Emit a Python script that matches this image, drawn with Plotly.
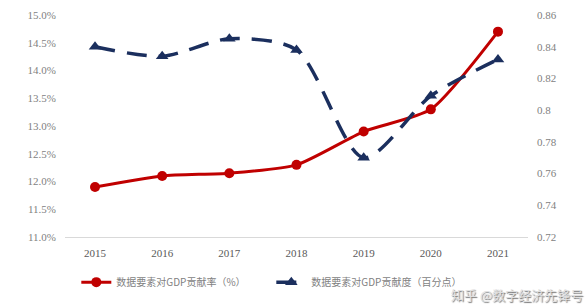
import plotly.graph_objects as go

years = ["2015", "2016", "2017", "2018", "2019", "2020", "2021"]
rate_pct = [11.9, 12.1, 12.15, 12.3, 12.9, 13.3, 14.7]
contrib_pp = [0.840, 0.834, 0.845, 0.838, 0.770, 0.809, 0.832]
name_rate = "数据要素对GDP贡献率（%）"
name_contrib = "数据要素对GDP贡献度（百分点）"
left_ticks = [11.0, 11.5, 12.0, 12.5, 13.0, 13.5, 14.0, 14.5, 15.0]
right_ticks = [0.72, 0.74, 0.76, 0.78, 0.80, 0.82, 0.84, 0.86]

RED = "#C00000"
NAVY = "#1B2F5E"
GRAY = "#7F7F7F"
SERIF = "Liberation Serif, Times New Roman, serif"

fig = go.Figure()
fig.add_trace(go.Scatter(
    x=years, y=rate_pct, name=name_rate, mode="lines+markers",
    line=dict(color=RED, width=3, shape="spline", smoothing=0.6),
    marker=dict(symbol="circle", size=10, color=RED),
    yaxis="y",
))
fig.add_trace(go.Scatter(
    x=years, y=contrib_pp, name=name_contrib, mode="lines+markers",
    line=dict(color=NAVY, width=3.5, dash="20px,12px", shape="spline", smoothing=0.8),
    marker=dict(symbol="triangle-up", size=11, color=NAVY),
    yaxis="y2",
))

fig.update_layout(
    width=587, height=305,
    margin=dict(l=65, r=59, t=15, b=68, autoexpand=False),
    paper_bgcolor="white", plot_bgcolor="white",
    font=dict(family=SERIF, color=GRAY, size=11),
    showlegend=True,
    legend=dict(
        orientation="h", xref="container", x=0.13, xanchor="left",
        yref="container", y=0.075, yanchor="middle",
        font=dict(family="Noto Sans CJK SC, Liberation Serif", size=10, color=GRAY),
        itemwidth=30, entrywidth=150, entrywidthmode="pixels",
        bgcolor="rgba(0,0,0,0)",
    ),
    xaxis=dict(
        type="category", categoryorder="array", categoryarray=years,
        showgrid=False, showline=True, linecolor="#D9D9D9", linewidth=1,
        ticks="", tickfont=dict(family=SERIF, size=11, color="#595959"),
        ticklabelstandoff=6, zeroline=False,
    ),
    yaxis=dict(
        range=[11.0, 15.0], tickvals=left_ticks,
        ticktext=[f"{v:.1f}%" for v in left_ticks],
        showgrid=False, zeroline=False, showline=False, ticks="",
        tickfont=dict(family=SERIF, size=11, color=GRAY),
        ticklabelstandoff=8,
    ),
    yaxis2=dict(
        range=[0.72, 0.86], tickvals=right_ticks,
        ticktext=[("0.8" if abs(v - 0.8) < 1e-9 else f"{v:.2f}") for v in right_ticks],
        overlaying="y", side="right",
        showgrid=False, zeroline=False, showline=False, ticks="",
        tickfont=dict(family=SERIF, size=11, color=GRAY),
        ticklabelstandoff=8,
    ),
)

fig.add_annotation(
    text="知乎 @数字经济先锋号", xref="paper", yref="paper",
    x=1.122, y=-0.305, xanchor="right", yanchor="bottom", showarrow=False,
    borderpad=0,
    font=dict(family="Noto Sans CJK SC", size=13, color="#E0E0E0",
              shadow="1px 1px 1px #777"),
)

fig.write_html("out.html")
